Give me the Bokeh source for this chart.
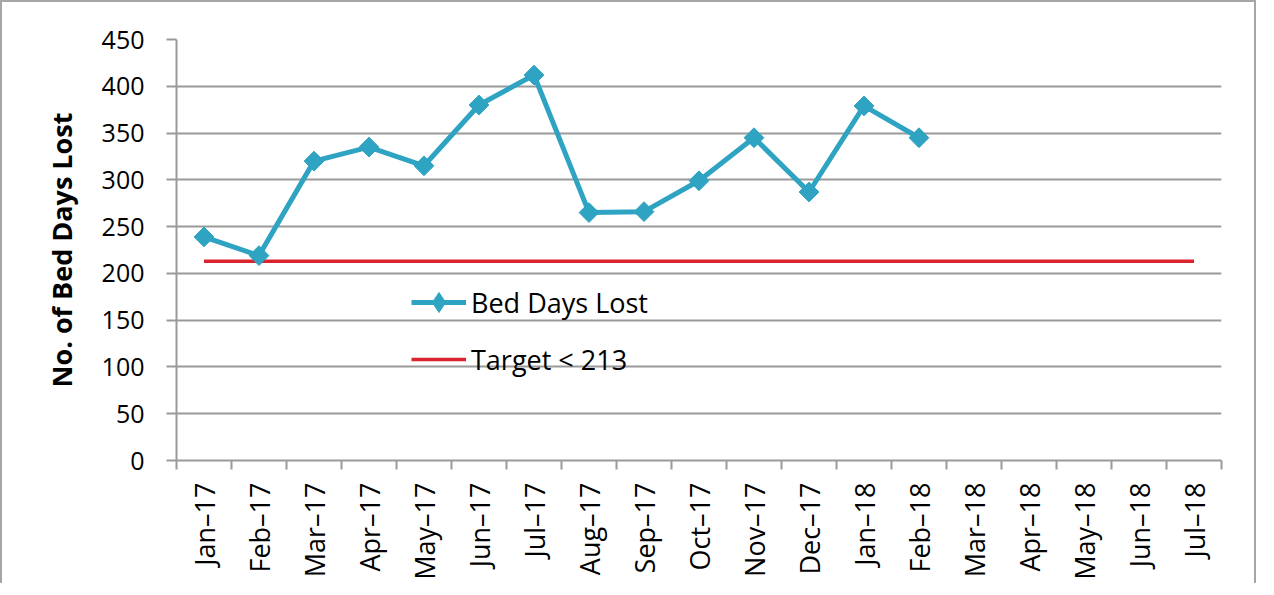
import math
from bokeh.plotting import figure
from bokeh.models import FixedTicker, Range1d, Legend, LegendItem
from bokeh.embed import file_html
from bokeh.resources import INLINE

months = ["Jan–17", "Feb–17", "Mar–17", "Apr–17", "May–17", "Jun–17", "Jul–17",
          "Aug–17", "Sep–17", "Oct–17", "Nov–17", "Dec–17", "Jan–18", "Feb–18",
          "Mar–18", "Apr–18", "May–18", "Jun–18", "Jul–18"]
bed_days_lost = [239, 219, 320, 335, 315, 380, 412, 265, 266, 299, 345, 287, 379, 345]
target_value = 213
target_label = "Target < 213"
series_label = "Bed Days Lost"
y_label = "No. of Bed Days Lost"
y_ticks = [0, 50, 100, 150, 200, 250, 300, 350, 400, 450]

FONT = "Open Sans"
centers = [i + 0.5 for i in range(len(months))]
bounds = [float(i) for i in range(len(months) + 1)]

p = figure(width=1256, height=583, output_backend="svg", toolbar_location=None,
           x_range=Range1d(0, len(months)), y_range=Range1d(0, 450),
           min_border_left=174, min_border_right=37, min_border_top=37, min_border_bottom=125)
p.styles = {"border-top": "2px solid #a6a6a6", "border-left": "2px solid #a6a6a6",
            "border-right": "2px solid #a6a6a6"}
p.outline_line_color = None
p.background_fill_color = "white"
p.border_fill_color = "white"

# grid
p.xgrid.grid_line_color = None
p.ygrid.grid_line_color = "#9a9a9a"
p.ygrid.grid_line_width = 2

# y axis
p.yaxis.ticker = FixedTicker(ticks=y_ticks)
p.yaxis.axis_line_color = "#9a9a9a"
p.yaxis.axis_line_width = 2
p.yaxis.major_tick_line_color = "#9a9a9a"
p.yaxis.major_tick_line_width = 2
p.yaxis.major_tick_out = 10
p.yaxis.major_tick_in = 0
p.yaxis.minor_tick_line_color = None
p.yaxis.major_label_text_font = FONT
p.yaxis.major_label_text_font_size = "25px"
p.yaxis.major_label_text_color = "black"
p.yaxis.major_label_standoff = 22
p.yaxis.axis_label = y_label
p.yaxis.axis_label_text_font = FONT
p.yaxis.axis_label_text_font_size = "27px"
p.yaxis.axis_label_text_font_style = "bold"
p.yaxis.axis_label_text_color = "black"
p.yaxis.axis_label_standoff = 19

# x axis: labels at category centres, ticks at boundaries
p.xaxis.ticker = FixedTicker(ticks=centers, minor_ticks=bounds)
p.xaxis.major_label_overrides = {c: m for c, m in zip(centers, months)}
p.xaxis.major_label_orientation = math.pi / 2
p.xaxis.major_tick_line_color = None
p.xaxis.minor_tick_line_color = "#9a9a9a"
p.xaxis.minor_tick_line_width = 2
p.xaxis.minor_tick_out = 9
p.xaxis.minor_tick_in = 0
p.xaxis.axis_line_color = "#9a9a9a"
p.xaxis.axis_line_width = 2
p.xaxis.major_label_text_font = FONT
p.xaxis.major_label_text_font_size = "27px"
p.xaxis.major_label_text_color = "black"
p.xaxis.major_label_standoff = 13

blue = "#2fa3c2"
red = "#d9242f"

xs = centers[:len(bed_days_lost)]
r_tgt = p.line([centers[0], centers[-1]], [target_value, target_value], line_color=red, line_width=3.5)
r_line = p.line(xs, bed_days_lost, line_color=blue, line_width=5)
r_pts = p.scatter(xs, bed_days_lost, marker="square", angle=math.pi / 4, size=14,
                  fill_color=blue, line_color=blue)
# legend-only diamond icon (no visible marks in the plot area)
r_icon = p.scatter([float("nan")], [float("nan")], marker="diamond", size=20,
                   fill_color=blue, line_color=blue)

legend = Legend(items=[LegendItem(label=series_label, renderers=[r_line, r_icon]),
                       LegendItem(label=target_label, renderers=[r_tgt])],
                location=(235, 76), orientation="vertical")
legend.background_fill_alpha = 0
legend.border_line_color = None
legend.label_text_font = FONT
legend.label_text_font_size = "27px"
legend.label_text_color = "black"
legend.glyph_width = 55
legend.glyph_height = 50
legend.label_height = 24
legend.spacing = 7
legend.padding = 0
legend.margin = 0
legend.label_standoff = 5
p.add_layout(legend, "center")

open("out.html", "w").write(file_html(p, INLINE))
